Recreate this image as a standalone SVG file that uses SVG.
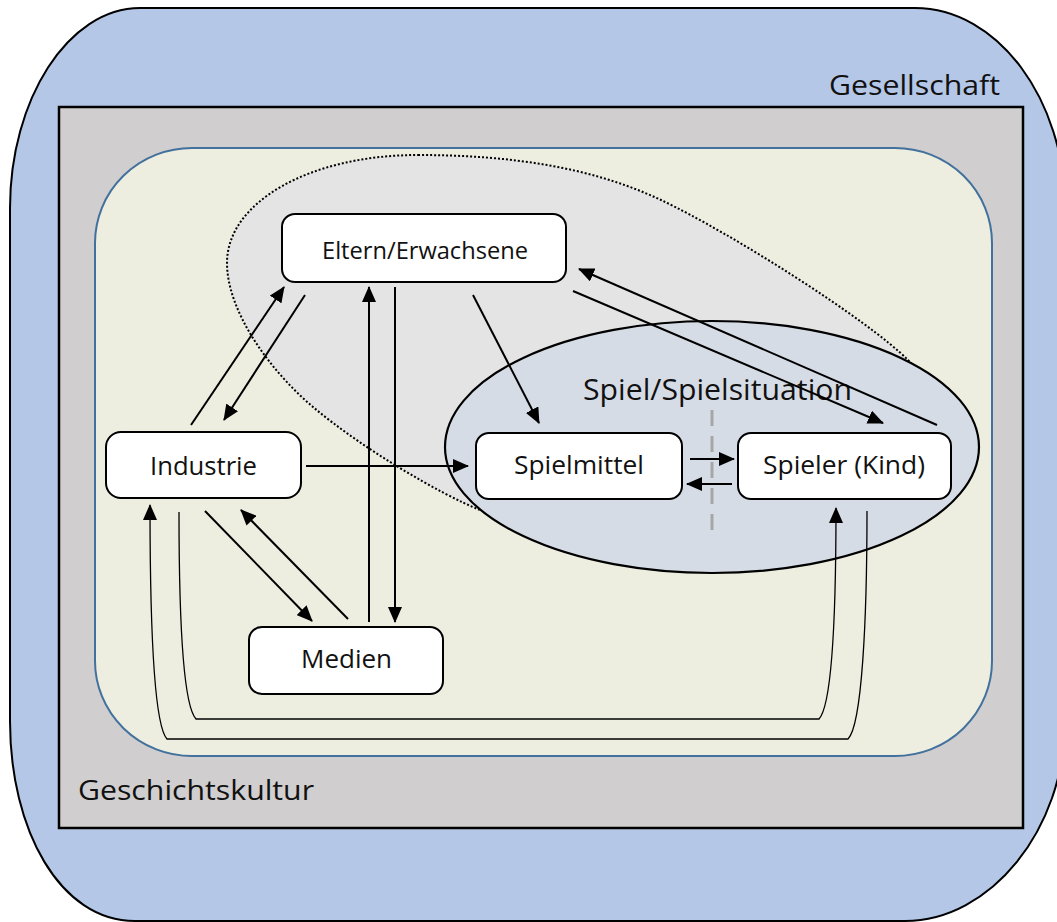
<svg xmlns="http://www.w3.org/2000/svg" width="1057" height="922" viewBox="0 0 1057 922">
<defs>
<marker id="ah" viewBox="0 0 16 14" refX="15" refY="7" markerWidth="16" markerHeight="14" markerUnits="userSpaceOnUse" orient="auto">
<path d="M0,0 L16,7 L0,14 z" fill="#000"/>
</marker>
<style>
.node rect{fill:#fff;stroke:#000;stroke-width:2}
.lbl{font-family:"Open Sans","Liberation Sans",sans-serif;fill:#111}
.c{fill:none;stroke:#000;stroke-width:2;marker-end:url(#ah)}
.cl{fill:none;stroke:#000;stroke-width:1.3}
</style>
</defs>
<g id="background">
<path d="M140,8 L915,8 C998,8 1065,100 1065,208 L1065,721 C1065,830 990,921 905,921 L135,921 C60,921 10,830 10,721 L10,208 C10,100 68,8 140,8 Z" fill="#B4C7E7" stroke="#000" stroke-width="2"/>
<rect x="59" y="107" width="964" height="721" fill="#D0CECF" stroke="#000" stroke-width="2.5"/>
<rect x="95" y="148" width="897" height="608" rx="97" ry="95" fill="#EDEDE0" stroke="#41719C" stroke-width="2"/>
<path d="M418,155 C510,155 591,167 661,200 C731,233 868,320 908,360 C948,400 960,440 920,480 C870,530 700,545 560,530 C530,527 505,518 480,510 C440,494 363,449 313,407 C268,369 227,310 227,263 C227,202 310,155 418,155 Z" fill="#E4E4E4" stroke="#000" stroke-width="2" stroke-dasharray="2 2"/>
<ellipse cx="712" cy="447" rx="267" ry="126" fill="#D6DCE5" stroke="#000" stroke-width="2.2"/>
<line x1="712" y1="410" x2="712" y2="533" stroke="#A6A6A6" stroke-width="3" stroke-dasharray="16 10"/>
<text class="lbl" x="829" y="95" font-size="28" textLength="171" lengthAdjust="spacingAndGlyphs">Gesellschaft</text>
<text class="lbl" x="78" y="800" font-size="28" textLength="236" lengthAdjust="spacingAndGlyphs">Geschichtskultur</text>
<text class="lbl" x="583" y="400" font-size="29" textLength="269" lengthAdjust="spacingAndGlyphs">Spiel/Spielsituation</text>
</g>
<g id="connectors">
<path class="c" d="M191,425 L284,287"/>
<path class="c" d="M305,295 L224,420"/>
<path class="c" d="M369,622 L369,287"/>
<path class="c" d="M395,287 L395,622"/>
<path class="c" d="M473,295 L539,423"/>
<path class="c" d="M573,291 L883,423"/>
<path class="c" d="M937,425 L579,269"/>
<path class="c" d="M306,466 L468,466"/>
<path class="c" d="M690,459 L734,459"/>
<path class="c" d="M732,484 L687,484"/>
<path class="c" d="M205,511 L312,621"/>
<path class="c" d="M348,619 L241,510"/>
<path class="cl" d="M179,512 C179,620 183,705 196,719 L819,719 C832,705 836,620 836,508" marker-end="url(#ah)"/>
<path class="cl" d="M867,511 C867,620 862,725 848,739 L167,739 C154,725 150,620 150,505" marker-end="url(#ah)"/>
</g>
<g id="eltern" class="node">
<rect x="282" y="214" width="284" height="68" rx="13"/>
<text class="lbl" x="322" y="259" font-size="24" textLength="206" lengthAdjust="spacingAndGlyphs">Eltern/Erwachsene</text>
</g>
<g id="industrie" class="node">
<rect x="106" y="432" width="195" height="66" rx="15"/>
<text class="lbl" x="150" y="475" font-size="25" textLength="107" lengthAdjust="spacingAndGlyphs">Industrie</text>
</g>
<g id="spielmittel" class="node">
<rect x="476" y="433" width="206" height="66" rx="13"/>
<text class="lbl" x="514" y="474" font-size="25" textLength="130" lengthAdjust="spacingAndGlyphs">Spielmittel</text>
</g>
<g id="spieler" class="node">
<rect x="738" y="433" width="213" height="66" rx="13"/>
<text class="lbl" x="763" y="474" font-size="25" textLength="162" lengthAdjust="spacingAndGlyphs">Spieler (Kind)</text>
</g>
<g id="medien" class="node">
<rect x="249" y="627" width="194" height="67" rx="13"/>
<text class="lbl" x="301" y="668" font-size="25" textLength="91" lengthAdjust="spacingAndGlyphs">Medien</text>
</g>
</svg>
